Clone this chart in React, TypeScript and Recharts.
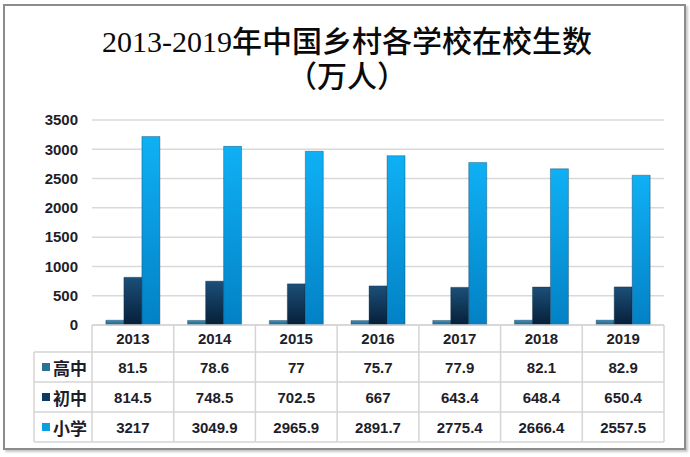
import React from 'react';
import { BarChart, Bar, XAxis, YAxis, CartesianGrid } from 'recharts';

const years = ['2013', '2014', '2015', '2016', '2017', '2018', '2019'];
const gaozhong = [81.5, 78.6, 77, 75.7, 77.9, 82.1, 82.9];
const chuzhong = [814.5, 748.5, 702.5, 667, 643.4, 648.4, 650.4];
const xiaoxue = [3217, 3049.9, 2965.9, 2891.7, 2775.4, 2666.4, 2557.5];
const seriesNames = ['高中', '初中', '小学'];
const yTicks = [0, 500, 1000, 1500, 2000, 2500, 3000, 3500];

const seriesValues = [gaozhong, chuzhong, xiaoxue];
const data = years.map((year, i) => ({
  year,
  高中: gaozhong[i],
  初中: chuzhong[i],
  小学: xiaoxue[i],
}));

// layout of the table under the plot
const PLOT_LEFT = 92;
const PLOT_RIGHT = 664;
const COL_W = (PLOT_RIGHT - PLOT_LEFT) / years.length;
const LEGEND_LEFT = 34;
const rowLines = [27, 57, 87, 117];
const rowCenters = [13, 42, 72, 102];
const gridColor = '#d4d4d4';
const swatch = ['url(#gGao)', 'url(#gChu)', 'url(#gXiao)'];
const swatchFlat = ['#2b7099', '#0c3a60', '#0a9ee3'];
const textFont = '"Liberation Sans", "Noto Sans CJK SC", sans-serif';

function TableColumn(props: any) {
  const { x, y, payload, index } = props;
  const left = x - COL_W / 2;
  const right = x + COL_W / 2;
  const bottom = y + rowLines[rowLines.length - 1];
  return (
    <g>
      <line x1={right} y1={y} x2={right} y2={bottom} stroke={gridColor} strokeWidth={1.5} />
      {index === 0 && (
        <g>
          <line x1={left} y1={y} x2={left} y2={bottom} stroke={gridColor} strokeWidth={1.5} />
          <line x1={LEGEND_LEFT} y1={y + rowLines[0]} x2={LEGEND_LEFT} y2={bottom} stroke={gridColor} strokeWidth={1.5} />
          {rowLines.map((r) => (
            <line key={r} x1={LEGEND_LEFT} y1={y + r} x2={left} y2={y + r} stroke={gridColor} strokeWidth={1.5} />
          ))}
          {seriesNames.map((name, s) => (
            <g key={name}>
              <rect x={LEGEND_LEFT + 8} y={y + rowCenters[s + 1] - 4} width={8} height={8} fill={swatchFlat[s]} />
              <text
                x={LEGEND_LEFT + 19}
                y={y + rowCenters[s + 1]}
                dominantBaseline="central"
                fontSize={17}
                fontWeight="bold"
                fill="#1e1e2a"
                style={{ fontFamily: '"Noto Sans CJK SC", sans-serif' }}
              >
                {name}
              </text>
            </g>
          ))}
        </g>
      )}
      {rowLines.map((r) => (
        <line key={r} x1={left} y1={y + r} x2={right} y2={y + r} stroke={gridColor} strokeWidth={1.5} />
      ))}
      <text
        x={x}
        y={y + rowCenters[0]}
        textAnchor="middle"
        dominantBaseline="central"
        fontSize={15}
        fontWeight="bold"
        fill="#1e1e2a"
        style={{ fontFamily: textFont }}
      >
        {payload.value}
      </text>
      {seriesValues.map((vals, s) => (
        <text
          key={s}
          x={x}
          y={y + rowCenters[s + 1]}
          textAnchor="middle"
          dominantBaseline="central"
          fontSize={15}
          fontWeight="bold"
          fill="#1e1e2a"
          style={{ fontFamily: textFont }}
        >
          {vals[index]}
        </text>
      ))}
    </g>
  );
}

export default function App() {
  return (
    <div style={{ position: 'absolute', left: 0, top: 0, width: 690, height: 457, background: '#fff' }}>
      <div
        style={{
          position: 'absolute',
          left: 3,
          top: 4,
          width: 679,
          height: 442,
          border: '2px solid #8c8c8c',
          boxShadow: '2px 2px 2px #c8c8c8',
        }}
      />
      <div
        style={{
          position: 'absolute',
          left: 2,
          top: 24,
          width: 690,
          textAlign: 'center',
          fontSize: 30,
          fontWeight: 500,
          lineHeight: '35px',
          color: '#0a0a0a',
          fontFamily: '"Liberation Serif", "Noto Sans CJK SC", serif',
        }}
      >
        <div>2013-2019年中国乡村各学校在校生数</div>
        <div>（万人）</div>
      </div>
      <div style={{ position: 'absolute', left: 0, top: 0 }}>
        <BarChart
          width={690}
          height={457}
          data={data}
          margin={{ top: 120, right: 690 - PLOT_RIGHT, bottom: 12, left: PLOT_LEFT - 60 }}
          barCategoryGap="17%"
          barGap={0}
        >
          <defs>
            <linearGradient id="gGao" x1="0" y1="0" x2="0" y2="1">
              <stop offset="0%" stopColor="#3f8fb8" />
              <stop offset="100%" stopColor="#1d5f85" />
            </linearGradient>
            <linearGradient id="gChu" x1="0" y1="0" x2="0" y2="1">
              <stop offset="0%" stopColor="#1c4f78" />
              <stop offset="100%" stopColor="#061f38" />
            </linearGradient>
            <linearGradient id="gXiao" x1="0" y1="0" x2="0" y2="1">
              <stop offset="0%" stopColor="#0fb0f5" />
              <stop offset="100%" stopColor="#0381c5" />
            </linearGradient>
          </defs>
          <CartesianGrid vertical={false} stroke="#d9d9d9" strokeWidth={1.5} />
          <XAxis
            dataKey="year"
            height={120}
            interval={0}
            tickSize={0}
            tickMargin={0}
            axisLine={{ stroke: '#d4d4d4', strokeWidth: 1.5 }}
            tickLine={false}
            tick={<TableColumn />}
          />
          <YAxis
            width={60}
            domain={[0, 3500]}
            ticks={yTicks}
            axisLine={false}
            tickLine={false}
            tickSize={0}
            tickMargin={14}
            tick={{ fontSize: 15, fontWeight: 'bold', fill: '#1e1e2a', fontFamily: textFont }}
          />
          {seriesNames.map((name, s) => (
            <Bar
              key={name}
              dataKey={name}
              fill={swatch[s]}
              stroke="#0a2a44"
              strokeOpacity={0.35}
              isAnimationActive={false}
            />
          ))}
        </BarChart>
      </div>
    </div>
  );
}
